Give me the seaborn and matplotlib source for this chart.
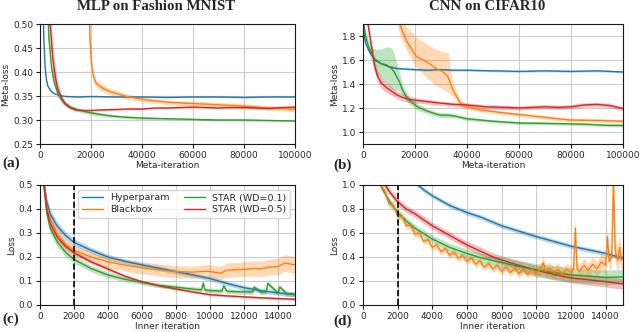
import numpy as np
import matplotlib
matplotlib.use("Agg")
import matplotlib.pyplot as plt
import matplotlib.ticker as mticker
import seaborn as sns

# ---- (a) MLP on Fashion MNIST, meta-loss ----
a_hyp_x = [300, 700, 1000, 1500, 2000, 2500, 3000, 4000, 5000, 6000, 8000, 10000, 15000, 20000,
           30000, 40000, 50000, 60000, 70000, 80000, 90000, 100000]
a_hyp_y = [0.95, 0.7, 0.58, 0.47, 0.41, 0.385, 0.372, 0.362, 0.357, 0.354, 0.351, 0.349, 0.348, 0.349,
           0.348, 0.348, 0.347, 0.348, 0.348, 0.347, 0.348, 0.348]
a_hyp_sd = [0.01, 0.008, 0.006, 0.005, 0.004, 0.003, 0.002, 0.002, 0.002, 0.001, 0.001, 0.001, 0.001, 0.001,
            0.001, 0.001, 0.001, 0.001, 0.001, 0.001, 0.001, 0.001]

a_bb_x = [19200, 19600, 20000, 20500, 21000, 22000, 23500, 25000, 27000, 30000, 34000, 38000, 43000,
          50000, 57000, 65000, 72000, 80000, 87000, 94000, 100000]
a_bb_y = [0.55, 0.47, 0.43, 0.405, 0.39, 0.377, 0.37, 0.365, 0.36, 0.355, 0.349, 0.345, 0.341,
          0.337, 0.335, 0.333, 0.331, 0.329, 0.326, 0.324, 0.322]
a_bb_sd = [0.02, 0.015, 0.012, 0.01, 0.009, 0.008, 0.008, 0.007, 0.007, 0.006, 0.006, 0.005, 0.005,
           0.005, 0.005, 0.005, 0.005, 0.005, 0.005, 0.005, 0.005]

a_s1_x = [1500, 2500, 3500, 4500, 5500, 7000, 8500, 10000, 12000, 15000, 18000, 22000, 27000, 33000,
          40000, 47000, 55000, 62000, 70000, 80000, 90000, 100000]
a_s1_y = [0.9, 0.6, 0.47, 0.41, 0.38, 0.355, 0.342, 0.334, 0.327, 0.321, 0.317, 0.313, 0.309, 0.306,
          0.304, 0.303, 0.302, 0.301, 0.300, 0.300, 0.299, 0.298]
a_s1_sd = [0.03, 0.02, 0.015, 0.012, 0.01, 0.008, 0.006, 0.005, 0.004, 0.004, 0.004, 0.004, 0.003, 0.003,
           0.003, 0.002, 0.002, 0.002, 0.002, 0.002, 0.002, 0.002]

a_s5_x = [2000, 3000, 4000, 5000, 6000, 7000, 8500, 10000, 12000, 14000, 17000, 20000, 25000, 30000,
          35000, 40000, 45000, 50000, 55000, 60000, 65000, 70000, 75000, 80000, 85000, 90000, 95000, 100000]
a_s5_y = [0.9, 0.62, 0.5, 0.43, 0.39, 0.365, 0.345, 0.333, 0.325, 0.321, 0.32, 0.32, 0.321, 0.322,
          0.323, 0.323, 0.325, 0.325, 0.326, 0.327, 0.326, 0.325, 0.326, 0.326, 0.325, 0.324, 0.326, 0.327]
a_s5_sd = [0.06, 0.05, 0.04, 0.03, 0.02, 0.012, 0.008, 0.005, 0.003, 0.002, 0.002, 0.002, 0.002, 0.002,
           0.002, 0.002, 0.002, 0.002, 0.002, 0.002, 0.002, 0.002, 0.002, 0.002, 0.002, 0.002, 0.002, 0.002]

# ---- (b) CNN on CIFAR10, meta-loss ----
b_hyp_x = [0, 500, 1000, 2000, 3000, 4000, 5000, 7000, 10000, 13000, 16000, 20000, 25000, 30000,
           35000, 40000, 50000, 60000, 70000, 80000, 90000, 100000]
b_hyp_y = [1.95, 1.8, 1.74, 1.69, 1.65, 1.62, 1.6, 1.57, 1.545, 1.53, 1.525, 1.52, 1.515, 1.52,
           1.515, 1.515, 1.51, 1.505, 1.51, 1.505, 1.51, 1.5]
b_hyp_sd = [0.02, 0.02, 0.015, 0.012, 0.01, 0.01, 0.01, 0.008, 0.008, 0.008, 0.008, 0.008, 0.008, 0.008,
            0.008, 0.008, 0.008, 0.008, 0.008, 0.008, 0.008, 0.008]

b_bb_x = [13500, 14100, 16700, 20500, 25600, 28000, 30800, 32700, 34600, 37200, 39700, 44900, 53800,
          66700, 79500, 92300, 100000]
b_bb_y = [1.95, 1.9, 1.76, 1.63, 1.57, 1.53, 1.5, 1.46, 1.35, 1.25, 1.21, 1.185, 1.16,
          1.13, 1.1, 1.095, 1.09]
b_bb_lo = [0.08, 0.08, 0.08, 0.09, 0.14, 0.14, 0.14, 0.13, 0.05, 0.03, 0.02, 0.015, 0.015,
           0.015, 0.015, 0.015, 0.015]
b_bb_hi = [0.1, 0.1, 0.12, 0.16, 0.15, 0.16, 0.17, 0.2, 0.06, 0.03, 0.02, 0.015, 0.015,
           0.015, 0.015, 0.015, 0.015]

b_s1_x = [0, 1000, 2000, 3000, 4000, 5000, 7000, 9000, 11000, 12000, 14000, 15000, 16500, 18500,
          21000, 24000, 28000, 30000, 33000, 36000, 40000, 50000, 60000, 75000, 85000, 90000, 95000, 100000]
b_s1_y = [1.95, 1.8, 1.72, 1.67, 1.62, 1.59, 1.57, 1.56, 1.53, 1.5, 1.42, 1.36, 1.3, 1.25,
          1.21, 1.18, 1.15, 1.14, 1.14, 1.13, 1.11, 1.09, 1.075, 1.07, 1.065, 1.06, 1.055, 1.055]
b_s1_sd = [0.02, 0.03, 0.05, 0.06, 0.08, 0.1, 0.12, 0.15, 0.17, 0.15, 0.08, 0.05, 0.04, 0.03,
           0.03, 0.02, 0.02, 0.02, 0.02, 0.015, 0.015, 0.012, 0.012, 0.012, 0.012, 0.012, 0.012, 0.012]

b_s5_x = [1500, 2500, 3500, 4500, 5500, 7000, 9000, 11000, 13000, 15000, 18000, 22000, 26000, 30000,
          35000, 40000, 47000, 55000, 60000, 65000, 70000, 75000, 80000, 85000, 90000, 95000, 100000]
b_s5_y = [1.95, 1.82, 1.68, 1.55, 1.47, 1.41, 1.37, 1.34, 1.31, 1.29, 1.27, 1.26, 1.25, 1.24,
          1.23, 1.225, 1.21, 1.205, 1.2, 1.205, 1.21, 1.205, 1.21, 1.225, 1.23, 1.22, 1.195]
b_s5_sd = [0.05, 0.05, 0.05, 0.05, 0.05, 0.045, 0.04, 0.035, 0.03, 0.03, 0.025, 0.02, 0.02, 0.018,
           0.018, 0.018, 0.018, 0.018, 0.018, 0.018, 0.018, 0.018, 0.018, 0.018, 0.018, 0.018, 0.018]

# ---- (c) MLP inner loss ----
c_hyp_x = [150, 250, 400, 600, 1000, 1500, 2000, 3000, 4000, 5000, 6000, 7000, 8000, 9000, 10000,
           11000, 12000, 13000, 14000, 15000]
c_hyp_y = [0.55, 0.5, 0.43, 0.38, 0.33, 0.29, 0.261, 0.228, 0.2, 0.182, 0.167, 0.153, 0.139, 0.125, 0.11,
           0.09, 0.072, 0.06, 0.05, 0.043]
c_hyp_sd = [0.02, 0.02, 0.02, 0.02, 0.018, 0.016, 0.015, 0.013, 0.012, 0.01, 0.01, 0.01, 0.01, 0.01, 0.01,
            0.01, 0.01, 0.01, 0.01, 0.01]

c_bb_x = [150, 250, 400, 600, 1000, 1500, 2000, 3000, 4000, 5000, 6000, 7000, 8000, 9000, 9600, 10000,
          10600, 11000, 12000, 12700, 13000, 13500, 14000, 14400, 15000]
c_bb_y = [0.55, 0.5, 0.41, 0.36, 0.3, 0.255, 0.228, 0.2, 0.18, 0.166, 0.155, 0.146, 0.139, 0.137, 0.14, 0.14,
          0.132, 0.145, 0.149, 0.152, 0.15, 0.158, 0.16, 0.175, 0.167]
c_bb_sd = [0.02, 0.02, 0.02, 0.02, 0.02, 0.02, 0.02, 0.022, 0.025, 0.025, 0.025, 0.025, 0.025, 0.025, 0.027,
           0.028, 0.028, 0.03, 0.03, 0.032, 0.032, 0.033, 0.034, 0.035, 0.035]

c_s1_x = [150, 250, 400, 600, 1000, 1500, 2000, 3000, 4000, 5000, 6000, 7000, 8000, 9000, 9500, 9600,
          9700, 10000, 10700, 10800, 11000, 11700, 12000, 12500, 12600, 13000, 13300, 13400, 14000, 14100,
          14500, 15000]
c_s1_y = [0.55, 0.48, 0.38, 0.32, 0.265, 0.22, 0.19, 0.152, 0.125, 0.107, 0.094, 0.082, 0.074, 0.066, 0.063,
          0.092, 0.062, 0.06, 0.058, 0.08, 0.057, 0.055, 0.055, 0.054, 0.075, 0.053, 0.055, 0.09, 0.05, 0.075,
          0.048, 0.045]
c_s1_sd = [0.02, 0.02, 0.02, 0.02, 0.02, 0.018, 0.016, 0.014, 0.012, 0.01, 0.01, 0.01, 0.01, 0.01, 0.01,
           0.01, 0.01, 0.01, 0.01, 0.01, 0.01, 0.01, 0.01, 0.01, 0.01, 0.01, 0.01, 0.01, 0.01, 0.01,
           0.01, 0.01]

c_s5_x = [150, 250, 400, 600, 1000, 1500, 2000, 3000, 4000, 5000, 6000, 7000, 8000, 9000, 10000,
          11000, 12000, 13000, 14000, 15000]
c_s5_y = [0.55, 0.49, 0.4, 0.34, 0.285, 0.245, 0.218, 0.18, 0.15, 0.12, 0.097, 0.08, 0.067, 0.054, 0.043,
          0.038, 0.034, 0.03, 0.027, 0.024]
c_s5_sd = [0.02, 0.02, 0.02, 0.02, 0.015, 0.012, 0.01, 0.008, 0.007, 0.006, 0.005, 0.005, 0.005, 0.005, 0.005,
           0.005, 0.005, 0.005, 0.005, 0.005]

# ---- (d) CNN inner loss ----
d_hyp_x = [3000, 3500, 4000, 4500, 5000, 5500, 6000, 6750, 7500, 8000, 9000, 10000, 11000, 12000,
           13000, 14000, 14500, 15000]
d_hyp_y = [1.02, 0.96, 0.91, 0.87, 0.83, 0.8, 0.77, 0.735, 0.69, 0.66, 0.615, 0.57, 0.53, 0.49,
           0.46, 0.43, 0.41, 0.39]
d_hyp_sd = [0.02, 0.02, 0.02, 0.02, 0.02, 0.02, 0.02, 0.02, 0.02, 0.02, 0.02, 0.02, 0.02, 0.02,
            0.02, 0.02, 0.02, 0.02]

d_bb_x = [1000, 1250, 1500, 1750, 2000, 2250, 2500, 2750, 3000, 3250, 3500, 3750, 4000, 4250, 4500, 4750,
          5000, 5250, 5500, 5750, 6000, 6250, 6500, 6750, 7000, 7250, 7500, 7750, 8000, 8250, 8500, 8750,
          9000, 9250, 9500, 9750, 10000, 10250, 10400, 10550, 10750, 11000, 11250, 11500, 11750, 12000,
          12150, 12250, 12350, 12500, 12750, 13000, 13250, 13500, 13750, 14000, 14100, 14200, 14350, 14450,
          14550, 14700, 14800, 14900, 15000]
d_bb_y = [1.0, 0.95, 0.84, 0.83, 0.74, 0.74, 0.66, 0.665, 0.59, 0.6, 0.53, 0.545, 0.48, 0.5, 0.445, 0.47,
          0.415, 0.44, 0.39, 0.415, 0.365, 0.39, 0.34, 0.365, 0.315, 0.345, 0.3, 0.33, 0.28, 0.315, 0.27, 0.305,
          0.26, 0.3, 0.255, 0.295, 0.265, 0.3, 0.35, 0.28, 0.31, 0.27, 0.3, 0.26, 0.3, 0.27,
          0.3, 0.64, 0.3, 0.28, 0.33, 0.29, 0.34, 0.3, 0.36, 0.33, 0.57, 0.36, 0.4, 1.05,
          0.45, 0.37, 0.48, 0.38, 0.4]
d_bb_sd = [0.03, 0.03, 0.03, 0.03, 0.03, 0.03, 0.03, 0.03, 0.03, 0.03, 0.03, 0.03, 0.03, 0.03, 0.03, 0.03,
           0.03, 0.03, 0.03, 0.03, 0.03, 0.03, 0.03, 0.03, 0.03, 0.03, 0.03, 0.03, 0.03, 0.03, 0.03, 0.03,
           0.03, 0.03, 0.03, 0.03, 0.04, 0.05, 0.06, 0.05, 0.05, 0.05, 0.05, 0.05, 0.05, 0.05,
           0.06, 0.08, 0.06, 0.06, 0.06, 0.06, 0.06, 0.06, 0.07, 0.07, 0.08, 0.08, 0.08, 0.1,
           0.1, 0.1, 0.1, 0.1, 0.1]

d_s1_x = [1000, 1500, 2000, 2500, 3000, 4000, 5000, 6000, 6750, 7500, 8000, 9000, 10000, 11000,
          12000, 13000, 14000, 15000]
d_s1_y = [1.0, 0.87, 0.77, 0.7, 0.64, 0.55, 0.48, 0.43, 0.395, 0.37, 0.355, 0.32, 0.29, 0.27,
          0.25, 0.24, 0.23, 0.235]
d_s1_sd = [0.03, 0.03, 0.03, 0.03, 0.03, 0.03, 0.035, 0.035, 0.04, 0.04, 0.045, 0.05, 0.055, 0.06,
           0.06, 0.06, 0.06, 0.06]

d_s5_x = [1200, 1500, 2000, 2500, 3000, 4000, 5000, 6000, 6750, 7500, 8000, 9000, 10000, 11000,
          12000, 13000, 14000, 15000]
d_s5_y = [1.02, 0.95, 0.86, 0.8, 0.76, 0.66, 0.58, 0.5, 0.45, 0.4, 0.375, 0.33, 0.29, 0.255,
          0.225, 0.21, 0.195, 0.175]
d_s5_sd = [0.03, 0.03, 0.03, 0.03, 0.03, 0.03, 0.03, 0.03, 0.035, 0.035, 0.035, 0.04, 0.04, 0.04,
           0.04, 0.045, 0.045, 0.045]

labels = ["Hyperparam", "Blackbox", "STAR (WD=0.1)", "STAR (WD=0.5)"]
colors = ["#1f77b4", "#ff7f0e", "#2ca02c", "#d62728"]

sns.set_style("whitegrid", {"axes.edgecolor": "0.1", "xtick.bottom": True, "ytick.left": True,
                            "grid.color": "0.8"})
plt.rcParams["font.family"] = ["DejaVu Sans"]
plt.rcParams["xtick.major.size"] = 3
plt.rcParams["ytick.major.size"] = 3
plt.rcParams["xtick.major.pad"] = 2
plt.rcParams["ytick.major.pad"] = 2
plt.rcParams["axes.linewidth"] = 0.8


def draw(ax, x, y, lo, color, label, hi=None):
    x = np.asarray(x)
    y = np.asarray(y)
    lo = np.asarray(lo)
    hi = lo if hi is None else np.asarray(hi)
    ax.fill_between(x, y - lo, y + hi, color=color, alpha=0.3, lw=0)
    sns.lineplot(x=x, y=y, ax=ax, color=color, lw=1.0, sort=False, legend=False)
    line = ax.lines[-1]
    line.set_label(label)
    return line


fig = plt.figure(figsize=(6.4, 3.32), dpi=100)
ax_a = fig.add_axes([40 / 640, 1 - 144 / 332, 255 / 640, 120 / 332])
ax_b = fig.add_axes([363 / 640, 1 - 144 / 332, 260 / 640, 120 / 332])
ax_c = fig.add_axes([40 / 640, 1 - 305 / 332, 255 / 640, 120 / 332])
ax_d = fig.add_axes([363 / 640, 1 - 305 / 332, 260 / 640, 120 / 332])

draw(ax_a, a_hyp_x, a_hyp_y, a_hyp_sd, colors[0], labels[0])
draw(ax_a, a_bb_x, a_bb_y, a_bb_sd, colors[1], labels[1])
draw(ax_a, a_s1_x, a_s1_y, a_s1_sd, colors[2], labels[2])
draw(ax_a, a_s5_x, a_s5_y, a_s5_sd, colors[3], labels[3])

draw(ax_b, b_hyp_x, b_hyp_y, b_hyp_sd, colors[0], labels[0])
draw(ax_b, b_bb_x, b_bb_y, b_bb_lo, colors[1], labels[1], hi=b_bb_hi)
draw(ax_b, b_s1_x, b_s1_y, b_s1_sd, colors[2], labels[2])
draw(ax_b, b_s5_x, b_s5_y, b_s5_sd, colors[3], labels[3])

handles = []
handles.append(draw(ax_c, c_hyp_x, c_hyp_y, c_hyp_sd, colors[0], labels[0]))
handles.append(draw(ax_c, c_bb_x, c_bb_y, c_bb_sd, colors[1], labels[1]))
handles.append(draw(ax_c, c_s1_x, c_s1_y, c_s1_sd, colors[2], labels[2]))
handles.append(draw(ax_c, c_s5_x, c_s5_y, c_s5_sd, colors[3], labels[3]))

draw(ax_d, d_hyp_x, d_hyp_y, d_hyp_sd, colors[0], labels[0])
draw(ax_d, d_s5_x, d_s5_y, d_s5_sd, colors[3], labels[3])
draw(ax_d, d_s1_x, d_s1_y, d_s1_sd, colors[2], labels[2])
draw(ax_d, d_bb_x, d_bb_y, d_bb_sd, colors[1], labels[1])

for ax in (ax_c, ax_d):
    ax.axvline(2000, color="black", ls="--", lw=1.2)

title_font = dict(fontfamily="Liberation Serif", fontweight="bold", fontsize=10.7)
ax_a.set_title("MLP on Fashion MNIST", x=0.455, pad=10, **title_font)
ax_b.set_title("CNN on CIFAR10", x=0.477, pad=10, **title_font)

ax_a.set_xlim(0, 100000)
ax_a.set_ylim(0.25, 0.5)
ax_a.yaxis.set_major_locator(mticker.MultipleLocator(0.05))
ax_a.yaxis.set_major_formatter(mticker.FormatStrFormatter("%.2f"))
ax_b.set_xlim(0, 100000)
ax_b.set_ylim(0.9, 1.9)
ax_b.set_yticks([1.0, 1.2, 1.4, 1.6, 1.8])
ax_b.yaxis.set_major_formatter(mticker.FormatStrFormatter("%.1f"))
for ax in (ax_a, ax_b):
    ax.set_xticks([0, 20000, 40000, 60000, 80000, 100000])
    ax.set_xlabel("Meta-iteration", fontsize=6.5, labelpad=1)
    ax.set_ylabel("Meta-loss", fontsize=6.5, labelpad=2)

ax_c.set_ylim(0, 0.5)
ax_c.set_yticks([0.0, 0.1, 0.2, 0.3, 0.4, 0.5])
ax_d.set_ylim(0, 1.0)
ax_d.set_yticks([0.0, 0.2, 0.4, 0.6, 0.8, 1.0])
for ax in (ax_c, ax_d):
    ax.set_xlim(0, 15000)
    ax.set_xticks(range(0, 15000, 2000))
    ax.yaxis.set_major_formatter(mticker.FormatStrFormatter("%.1f"))
    ax.set_xlabel("Inner iteration", fontsize=6.5, labelpad=1)
    ax.set_ylabel("Loss", fontsize=6.5, labelpad=2)

for ax in (ax_a, ax_b, ax_c, ax_d):
    ax.tick_params(labelsize=6.5, width=0.8, color="0.1")
    for s in ax.spines.values():
        s.set_color("0.1")

ax_c.legend(handles=handles, labels=labels, ncol=2, fontsize=6.8, loc="upper right",
            handlelength=2.2, columnspacing=1.5, borderpad=0.4, labelspacing=0.3,
            frameon=True, framealpha=0.8, edgecolor="0.8")

panel_font = dict(fontfamily="Liberation Serif", fontweight="bold", fontsize=11, va="center")
fig.text(0.004, 1 - 163 / 332, "(a)", **panel_font)
fig.text(333 / 640, 1 - 165 / 332, "(b)", **panel_font)
fig.text(0.004, 1 - 319 / 332, "(c)", **panel_font)
fig.text(333 / 640, 1 - 321 / 332, "(d)", **panel_font)

fig.savefig("out.png", dpi=100)
